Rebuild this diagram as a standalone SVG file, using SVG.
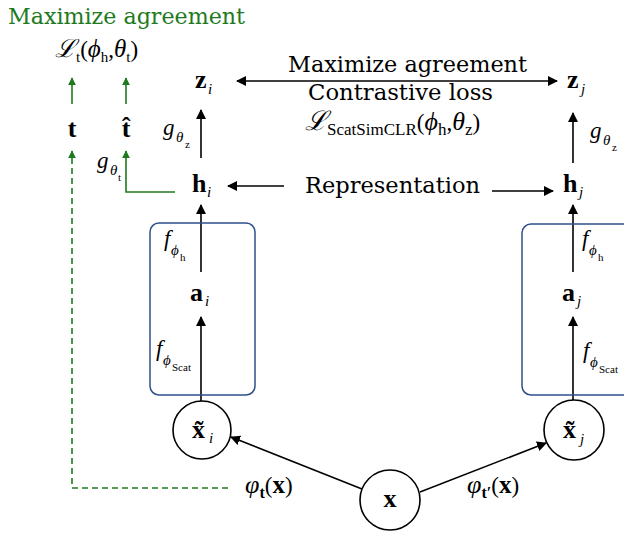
<svg xmlns="http://www.w3.org/2000/svg" width="624" height="535" viewBox="0 0 624 535">
<style>
text{font-family:"Liberation Serif","DejaVu Serif",serif;fill:#000}
.lb{font-family:"DejaVu Serif","Liberation Serif",serif;font-size:22px}
.g{fill:#1e7a1e}
.b{font-weight:bold;font-size:26px}
.it{font-style:italic}
.sub{font-style:italic;font-size:15px}
.ss{font-size:11px}
.k{stroke:#000;stroke-width:1.6;fill:none}
.gr{stroke:#1e7a1e;stroke-width:1.6;fill:none}
.box{fill:none;stroke:#2e4f8c;stroke-width:1.5}
.c{fill:#fff;stroke:#000;stroke-width:1.6}
</style>
<defs>
<marker id="ak" viewBox="0 0 10 10" refX="9" refY="5" markerWidth="10" markerHeight="10" markerUnits="userSpaceOnUse" orient="auto-start-reverse"><path d="M0,0 L10,5 L0,10 z" fill="#000"/></marker>
<marker id="ag" viewBox="0 0 10 10" refX="9" refY="5" markerWidth="8" markerHeight="8" markerUnits="userSpaceOnUse" orient="auto"><path d="M0,0 L10,5 L0,10 z" fill="#1e7a1e"/></marker>
</defs>
<g id="connectors">
<path class="gr" d="M72,104 V78" marker-end="url(#ag)"/>
<path class="gr" d="M126,104 V78" marker-end="url(#ag)"/>
<path class="gr" d="M228,488 H72 V151" stroke-dasharray="6,4" marker-end="url(#ag)"/>
<path class="gr" d="M175,192 H126 V151" marker-end="url(#ag)"/>
<path class="k" d="M201,158 V110" marker-end="url(#ak)"/>
<path class="k" d="M201,272 V205" marker-end="url(#ak)"/>
<path class="k" d="M201,401 V317" marker-end="url(#ak)"/>
<path class="k" d="M573,163 V113" marker-end="url(#ak)"/>
<path class="k" d="M573,272 V205" marker-end="url(#ak)"/>
<path class="k" d="M573,400 V317" marker-end="url(#ak)"/>
<path class="k" d="M237,81 H557" marker-start="url(#ak)" marker-end="url(#ak)"/>
<path class="k" d="M284,186 H228" marker-end="url(#ak)"/>
<path class="k" d="M492,191 H553" marker-end="url(#ak)"/>
<path class="k" d="M362,489 L231,437" marker-end="url(#ak)"/>
<path class="k" d="M420,492 L546,443" marker-end="url(#ak)"/>
</g>
<g id="title-left">
<text class="lb g" x="8" y="24" textLength="237" lengthAdjust="spacingAndGlyphs">Maximize agreement</text>
</g>
<g id="loss-t">
<text x="55" y="57" font-size="23"><tspan class="it" font-size="25">ℒ</tspan><tspan font-size="15" dy="5">t</tspan><tspan dy="-5">(</tspan><tspan class="it" font-size="25">ϕ</tspan><tspan font-size="15" dy="5">h</tspan><tspan dy="-5">,</tspan><tspan class="it" font-size="25">θ</tspan><tspan font-size="15" dy="5">t</tspan><tspan dy="-5">)</tspan></text>
</g>
<g id="node-t"><text class="b" x="72" y="137" text-anchor="middle">t</text></g>
<g id="node-that"><text class="b" x="126" y="137" text-anchor="middle">t̂</text></g>
<g id="node-zi"><text class="b" x="195" y="88">z</text><text class="sub" x="208" y="94">i</text></g>
<g id="node-zj"><text class="b" x="567" y="88">z</text><text class="sub" x="581" y="94">j</text></g>
<g id="node-hi"><text class="b" x="192" y="192">h</text><text class="sub" x="207" y="197">i</text></g>
<g id="node-hj"><text class="b" x="563" y="192">h</text><text class="sub" x="579" y="197">j</text></g>
<g id="box-i"><rect class="box" x="150" y="223" width="105" height="172" rx="9"/></g>
<g id="box-j"><rect class="box" x="522" y="224" width="112" height="171" rx="9"/></g>
<g id="node-ai"><text class="b" x="190" y="301">a</text><text class="sub" x="205" y="306">i</text></g>
<g id="node-aj"><text class="b" x="562" y="301">a</text><text class="sub" x="577" y="306">j</text></g>
<g id="node-xi"><circle class="c" cx="202" cy="430" r="29"/><text class="b" x="192" y="438">x̃</text><text class="sub" x="209" y="443">i</text></g>
<g id="node-xj"><circle class="c" cx="574" cy="430" r="30"/><text class="b" x="563" y="438">x̃</text><text class="sub" x="580" y="444">j</text></g>
<g id="node-x"><circle class="c" cx="390" cy="500" r="30"/><text class="b" x="390" y="507" text-anchor="middle">x</text></g>
<g id="labels">
<text class="lb" x="288" y="72" textLength="239" lengthAdjust="spacingAndGlyphs">Maximize agreement</text>
<text class="lb" x="308" y="100" textLength="185" lengthAdjust="spacingAndGlyphs">Contrastive loss</text>
<text x="305" y="130" font-size="23"><tspan class="it" font-size="27">ℒ</tspan><tspan font-size="17" dy="5">ScatSimCLR</tspan><tspan dy="-5">(</tspan><tspan class="it" font-size="26">ϕ</tspan><tspan font-size="17" dy="5">h</tspan><tspan dy="-5">,</tspan><tspan class="it" font-size="26">θ</tspan><tspan font-size="17" dy="5">z</tspan><tspan dy="-5">)</tspan></text>
<text class="lb" x="305" y="193" textLength="175" lengthAdjust="spacingAndGlyphs">Representation</text>
<text class="it" x="163" y="135" font-size="23">g</text><text class="sub" x="176" y="142">θ</text><text class="ss" x="185" y="148">z</text>
<text class="it" x="590" y="138" font-size="23">g</text><text class="sub" x="603" y="145">θ</text><text class="ss" x="612" y="151">z</text>
<text class="it" x="97" y="168" font-size="23">g</text><text class="sub" x="110" y="175">θ</text><text class="ss" x="118" y="181">t</text>
<text class="it" x="164" y="246" font-size="23">f</text><text class="sub" x="171" y="255">ϕ</text><text class="ss" x="180" y="261">h</text>
<text class="it" x="582" y="246" font-size="23">f</text><text class="sub" x="589" y="255">ϕ</text><text class="ss" x="598" y="261">h</text>
<text class="it" x="156" y="356" font-size="23">f</text><text class="sub" x="163" y="365">ϕ</text><text class="ss" x="172" y="371">Scat</text>
<text class="it" x="583" y="358" font-size="23">f</text><text class="sub" x="590" y="367">ϕ</text><text class="ss" x="599" y="373">Scat</text>
<text x="245" y="493" font-size="23"><tspan class="it" font-size="26">φ</tspan><tspan font-size="16" font-weight="bold" dy="5">t</tspan><tspan dy="-5">(</tspan><tspan font-weight="bold" font-size="25">x</tspan>)</text>
<text x="467" y="493" font-size="23"><tspan class="it" font-size="26">φ</tspan><tspan font-size="16" font-weight="bold" dy="5">t′</tspan><tspan dy="-5">(</tspan><tspan font-weight="bold" font-size="25">x</tspan>)</text>
</g>
</svg>
